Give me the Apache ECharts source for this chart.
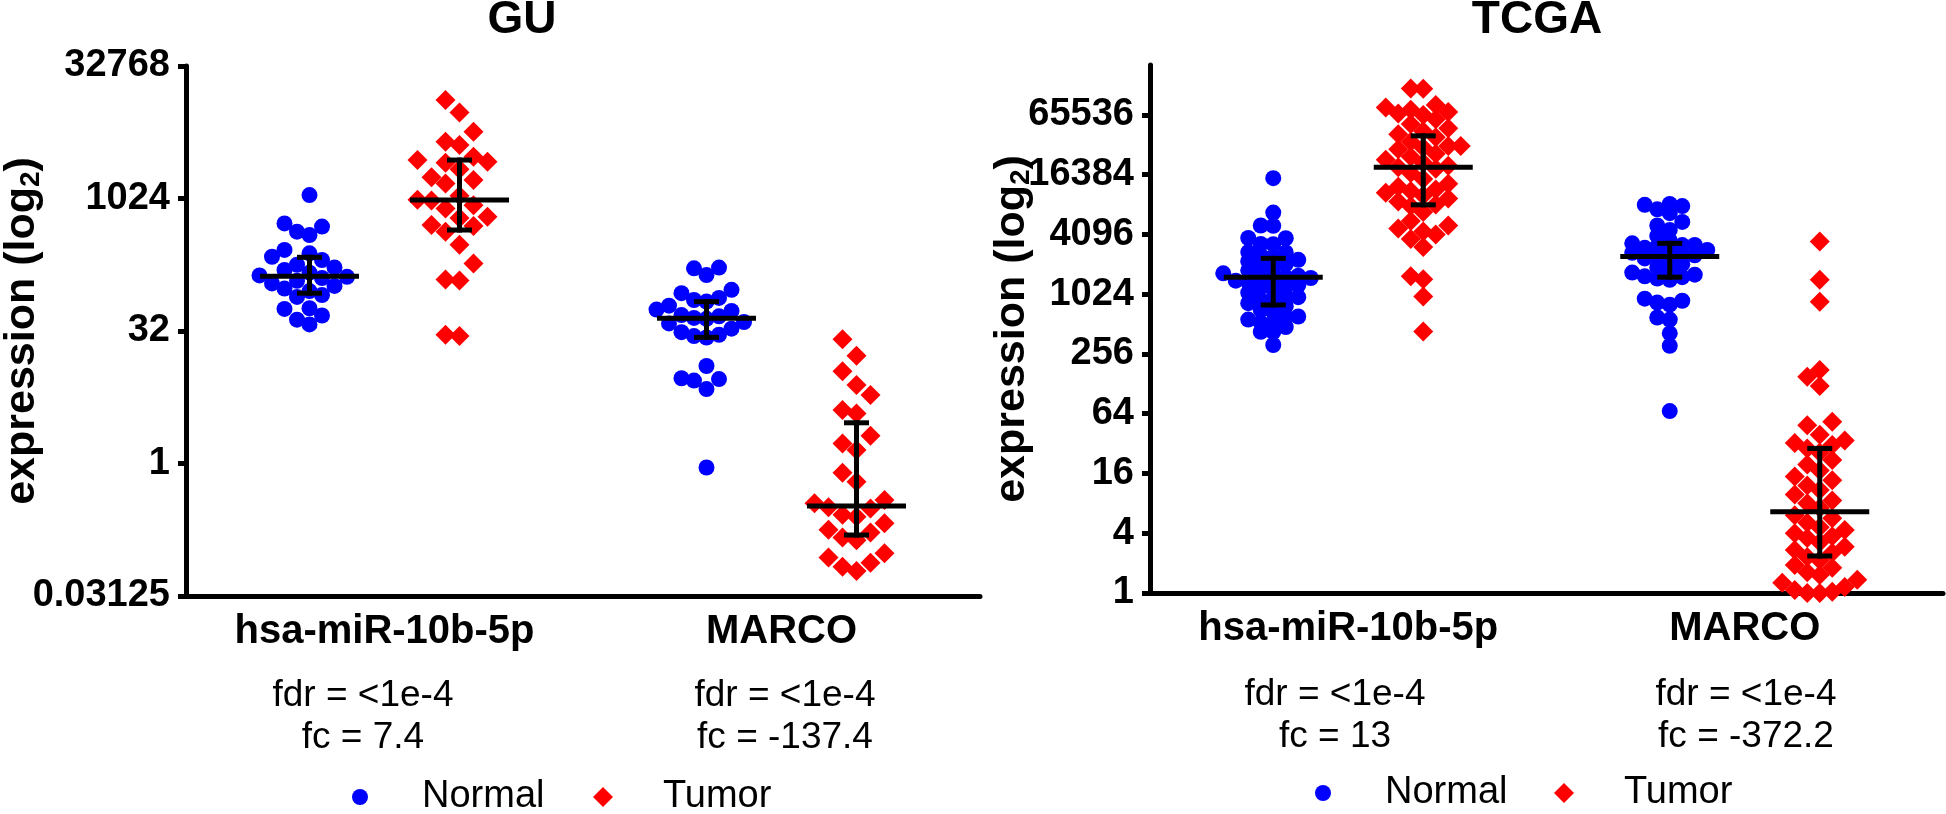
<!DOCTYPE html>
<html><head><meta charset="utf-8">
<script src="https://cdn.jsdelivr.net/npm/echarts@6/dist/echarts.min.js"></script>
<style>html,body{margin:0;padding:0;background:#fff}#c{width:1946px;height:814px}</style>
</head><body><div id="c"></div>
<script>
// ---------------- data ----------------
const categories = ['hsa-miR-10b-5p', 'MARCO'];
const panelTitles = ['GU', 'TCGA'];
const guTicks = [0.03125, 1, 32, 1024, 32768];
const tcgaTicks = [1, 4, 16, 64, 256, 1024, 4096, 16384, 65536];

// GU expression values
const guMirNormal = [1120, 534, 491, 430, 393, 267, 244, 223, 205, 181, 169, 158, 147, 137, 132, 128, 119, 111, 104, 97, 91, 82, 78, 58, 57, 48, 43, 38];
const guMirTumor = [13500, 9740, 5870, 4510, 4150, 3060, 2800, 2680, 2610, 2200, 1780, 1660, 1520, 1100, 990, 970, 860, 790, 635, 613, 512, 500, 430, 305, 187, 123, 120, 29, 28];
const guMarcoNormal = [168, 165, 138, 94, 86, 76, 72, 69, 62, 56, 54, 48.5, 47, 45, 44, 40.5, 39, 34, 31, 29, 28, 27, 12.8, 9.3, 9.1, 8.75, 7.0, 0.9];
const guMarcoTumor = [25.8, 16.7, 11.2, 7.8, 6.0, 4.06, 3.7, 2.06, 1.69, 1.42, 0.785, 0.62, 0.384, 0.354, 0.319, 0.308, 0.261, 0.248, 0.21, 0.177, 0.165, 0.144, 0.134, 0.0954, 0.0854, 0.0748, 0.067, 0.06];

// TCGA expression values
const tcgaMirNormal = [15100, 6800, 5040, 5000, 3770, 3750, 3280, 3260, 2720, 2700, 2520, 2440, 2270, 2200, 2050, 1980, 1850, 1780, 1660, 1570, 1520, 1500, 1490, 1480, 1400, 1350, 1260, 1220, 1210, 1140, 1060, 990, 955, 900, 895, 832, 776, 709, 676, 610, 605, 568, 530, 528, 478, 428, 425, 315];
const tcgaMirTumor = [121000, 120000, 82400, 77900, 73700, 70200, 67800, 65500, 59100, 53200, 48000, 44800, 41800, 39000, 35100, 31900, 31800, 30600, 29500, 26600, 24800, 23200, 21600, 20200, 19500, 18800, 17000, 14800, 13300, 12400, 11600, 11200, 10800, 10100, 9410, 8780, 8190, 7910, 6890, 5600, 5040, 4700, 4390, 4100, 3690, 3060, 1550, 1450, 970, 430];
const tcgaMarcoNormal = [8310, 8140, 7910, 7330, 6700, 5480, 5040, 4550, 3960, 3570, 3330, 3210, 3200, 3100, 3000, 2860, 2740, 2670, 2580, 2520, 2450, 2350, 2200, 2050, 1910, 1780, 1690, 1610, 1550, 1520, 1470, 1430, 923, 879, 843, 803, 596, 568, 413, 309, 68];
const tcgaMarcoTumor = [3470, 1430, 860, 176, 151, 122, 53, 49, 39.4, 34.3, 32.4, 30.9, 28.6, 26, 21.9, 19.7, 17.1, 14.9, 13.7, 12.1, 10.9, 9.85, 8.57, 8, 7.2, 6.06, 5.66, 5.1, 4.6, 4.32, 4, 3.73, 3.58, 3.25, 2.93, 2.71, 2.55, 2.3, 2.14, 1.92, 1.8, 1.62, 1.52, 1.36, 1.27, 1.15, 1.07, 1.03, 1, 1];

// median with interquartile range per category: [median, q1, q3]
const guNormalMedIqr = [[134, 86, 220], [44.6, 27.1, 69]];
const guTumorMedIqr = [[982, 449, 2800], [0.33, 0.154, 2.9]];
const tcgaNormalMedIqr = [[1520, 798, 2350], [2450, 1520, 3330]];
const tcgaTumorMedIqr = [[19500, 8140, 40300], [6.6, 2.36, 28.6]];

// statistics shown under each category
const guStats = ['fdr = <1e-4\nfc = 7.4', 'fdr = <1e-4\nfc = -137.4'];
const tcgaStats = ['fdr = <1e-4\nfc = 13', 'fdr = <1e-4\nfc = -372.2'];

// ---------------- style / layout ----------------
const FONT = 'Liberation Sans, Arial, Helvetica, sans-serif';
const BLUE = '#0000ff', RED = '#ff0000';
const GROUP_OFFSET = 75;

const panels = [
  {title: 'GU', left: 186, top: 66, width: 794, height: 530, min: 0.03125, max: 32768, ticks: guTicks, nameGap: 141,
   titleX: 522, statsX: [363, 785], statsTop: 675, legendTop: 778, legendX: [352, 593],
   normal: [guMirNormal, guMarcoNormal], tumor: [guMirTumor, guMarcoTumor],
   nMed: guNormalMedIqr, tMed: guTumorMedIqr, stats: guStats,
   stepN: 12.5, stepT: 14, gapN: 16, gapT: 20},
  {title: 'TCGA', left: 1150, top: 65, width: 793, height: 528, min: 1, max: Math.pow(2, 17.67), ticks: tcgaTicks, nameGap: 115,
   titleX: 1537, statsX: [1335, 1746], statsTop: 674, legendTop: 774, legendX: [1315, 1554],
   normal: [tcgaMirNormal, tcgaMarcoNormal], tumor: [tcgaMirTumor, tcgaMarcoTumor],
   nMed: tcgaNormalMedIqr, tMed: tcgaTumorMedIqr, stats: tcgaStats,
   stepN: 12.5, stepT: 12.5, gapN: 9, gapT: 14}
];

function fmtPow2(v) {
  const e = Math.round(Math.log2(v));
  return String(Math.pow(2, e));
}

function scatterData(lists, offset) {
  const out = [];
  lists.forEach((vals, ci) => vals.forEach(v => out.push({value: [ci, v], symbolOffset: [offset, 0]})));
  return out;
}

function iqrSeries(name, med, gi, offset) {
  return {
    type: 'custom', name: name, xAxisIndex: gi, yAxisIndex: gi, z: 5, silent: true, clip: false,
    data: med.map((d, i) => [i, d[0], d[1], d[2]]),
    encode: {x: 0, y: [1, 2, 3]},
    renderItem: function (params, api) {
      const c = api.value(0);
      const pm = api.coord([c, api.value(1)]);
      const p1 = api.coord([c, api.value(2)]);
      const p3 = api.coord([c, api.value(3)]);
      const x = pm[0] + offset;
      const st = {stroke: '#000', lineWidth: 5};
      return {type: 'group', children: [
        {type: 'line', shape: {x1: x - 49.5, y1: pm[1], x2: x + 49.5, y2: pm[1]}, style: st},
        {type: 'line', shape: {x1: x, y1: p1[1] + 2.5, x2: x, y2: p3[1] - 2.5}, style: st},
        {type: 'line', shape: {x1: x - 12.5, y1: p1[1], x2: x + 12.5, y2: p1[1]}, style: st},
        {type: 'line', shape: {x1: x - 12.5, y1: p3[1], x2: x + 12.5, y2: p3[1]}, style: st}
      ]};
    }
  };
}

const option = {
  animation: false,
  backgroundColor: '#fff',
  title: panels.map(p => ({text: p.title, left: p.titleX, top: -3, textAlign: 'center', padding: 0,
    textStyle: {fontSize: 46, fontWeight: 'bold', fontFamily: FONT, color: '#000'}})),
  legend: [].concat(...panels.map(p => [
    {data: ['Normal'], left: p.legendX[0], top: p.legendTop, itemWidth: 16, itemHeight: 16, padding: 0,
     textStyle: {fontSize: 38, fontFamily: FONT, color: '#000', padding: [0, 0, 0, 49]}},
    {data: ['Tumor'], left: p.legendX[1], top: p.legendTop, itemWidth: 20, itemHeight: 20, padding: 0,
     textStyle: {fontSize: 38, fontFamily: FONT, color: '#000', padding: [0, 0, 0, 45]}}
  ])),
  grid: panels.map(p => ({left: p.left, top: p.top, width: p.width, height: p.height, containLabel: false, outerBoundsMode: 'none'})),
  xAxis: panels.map((p, i) => ({
    type: 'category', gridIndex: i, data: categories,
    axisLine: {onZero: false, lineStyle: {color: '#000', width: 5}},
    axisTick: {alignWithLabel: true, length: 8, lineStyle: {color: '#000', width: 5}},
    axisLabel: {fontSize: 40, fontWeight: 'bold', fontFamily: FONT, color: '#000', margin: 16},
    splitLine: {show: false}
  })),
  yAxis: panels.map((p, i) => ({
    type: 'log', logBase: 2, gridIndex: i, min: p.min, max: p.max,
    axisLine: {show: true, lineStyle: {color: '#000', width: 5}},
    axisTick: {show: true, length: 8, lineStyle: {color: '#000', width: 5}, customValues: p.ticks},
    axisLabel: {customValues: p.ticks, formatter: fmtPow2, fontSize: 38, fontWeight: 'bold', fontFamily: FONT, color: '#000', margin: 16},
    splitLine: {show: false},
    minorTick: {show: false},
    name: 'expression (log{s|2})', nameLocation: 'middle', nameRotate: 90, nameGap: p.nameGap, nameMoveOverlap: false,
    nameTextStyle: {fontSize: 43, fontWeight: 'bold', fontFamily: FONT, color: '#000', lineHeight: 46,
      rich: {s: {fontSize: 28, fontWeight: 'bold', fontFamily: FONT, color: '#000', lineHeight: 22, verticalAlign: 'bottom'}}}
  })),
  graphic: [].concat(...panels.map(p => p.stats.map((t, ci) => ({
    type: 'text', x: p.statsX[ci], y: p.statsTop, silent: true,
    style: {text: t, fontSize: 37, fontFamily: FONT, fill: '#000', align: 'center', verticalAlign: 'top', lineHeight: 42}
  })))),
  series: [].concat(
    panels.map((p, i) => ({type: 'scatter', name: 'Normal', xAxisIndex: i, yAxisIndex: i, symbol: 'circle', symbolSize: 16, clip: false,
      itemStyle: {color: BLUE, opacity: 1}, data: scatterData(p.normal, -GROUP_OFFSET)})),
    panels.map((p, i) => ({type: 'scatter', name: 'Tumor', xAxisIndex: i, yAxisIndex: i, symbol: 'diamond', symbolSize: 20, clip: false,
      itemStyle: {color: RED, opacity: 1}, data: scatterData(p.tumor, GROUP_OFFSET)})),
    panels.map((p, i) => iqrSeries('Normal median', p.nMed, i, -GROUP_OFFSET)),
    panels.map((p, i) => iqrSeries('Tumor median', p.tMed, i, GROUP_OFFSET))
  )
};

const chart = echarts.init(document.getElementById('c'), null, {renderer: 'canvas'});
chart.setOption(option);

// GraphPad-like scatter-dot layout: points placed bottom-up, each into the
// first sideways slot (0, -1, +1, -2, +2 ...) that is free at that height.
function swarmOffsets(vals, gi, step, minDy) {
  const items = vals.map((v, i) => ({i: i, py: chart.convertToPixel({yAxisIndex: gi}, v)}));
  items.sort((a, b) => b.py - a.py);
  const last = {};
  const dx = new Array(vals.length).fill(0);
  items.forEach(it => {
    for (let k = 0; k < 100; k++) {
      const slot = k === 0 ? 0 : (k % 2 === 1 ? -Math.ceil(k / 2) : Math.ceil(k / 2));
      if (last[slot] === undefined || last[slot] - it.py >= minDy) {
        last[slot] = it.py;
        dx[it.i] = slot * step;
        break;
      }
    }
  });
  return dx;
}

function swarmData(lists, gi, offset, step, minDy) {
  const out = [];
  lists.forEach((vals, ci) => {
    const dx = swarmOffsets(vals, gi, step, minDy);
    vals.forEach((v, j) => out.push({value: [ci, v], symbolOffset: [offset + dx[j], 0]}));
  });
  return out;
}

chart.setOption({series: [].concat(
  panels.map((p, i) => ({data: swarmData(p.normal, i, -GROUP_OFFSET, p.stepN, p.gapN)})),
  panels.map((p, i) => ({data: swarmData(p.tumor, i, GROUP_OFFSET, p.stepT, p.gapT)}))
)});
</script></body></html>
